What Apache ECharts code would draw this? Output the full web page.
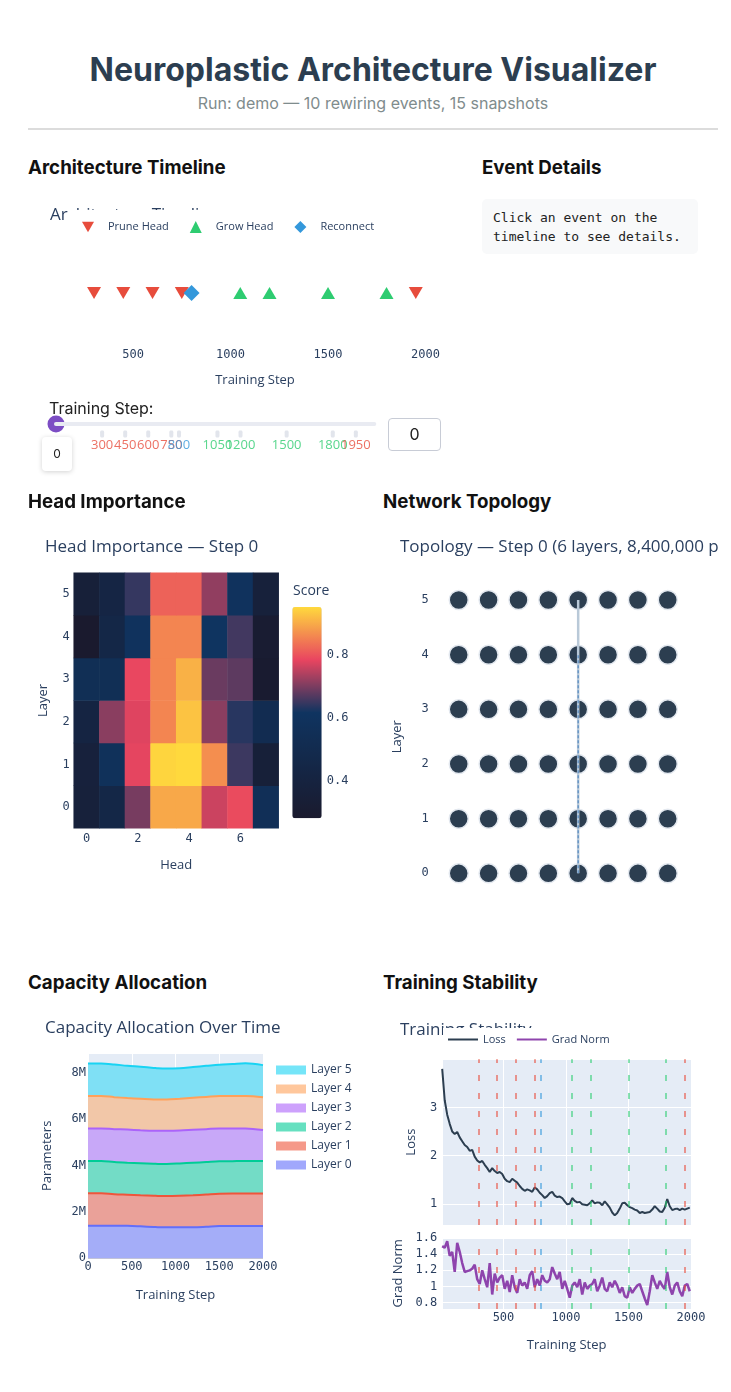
<!DOCTYPE html>
<html>
<head>
<meta charset="utf-8">
<title>Neuroplastic Architecture Visualizer</title>
<script src="https://cdn.jsdelivr.net/npm/echarts@6.0.0/dist/echarts.min.js"></script>
<style>
  body { margin: 0; background: #fff; font-family: Inter, 'Open Sans', sans-serif; }
  #page { position: relative; width: 731px; height: 1392px; overflow: hidden; }
  .abs { position: absolute; }
  .h1 { left: 28px; width: 690px; top: 48px; text-align: center; font-size: 32px; font-weight: 700; color: #2c3e50; line-height: 44px; }
  .sub { left: 28px; width: 690px; top: 93px; text-align: center; font-size: 16px; color: #7f8c8d; line-height: 20px; }
  .rule { left: 28px; width: 690px; top: 128px; height: 2px; background: #dcdcdc; }
  .h3 { font-size: 18.72px; font-weight: 700; color: #111; line-height: 24px; }
  .details { left: 482px; top: 199px; width: 194px; height: 35px; padding: 10px 11px; background: #f8f9fa; border-radius: 5px;
             font-family: 'DejaVu Sans Mono', monospace; font-size: 13px; line-height: 18.5px; color: #222; }
  .sl-label { left: 49px; top: 398px; font-size: 16px; color: #222; line-height: 20px; }
  .sl-tip { left: 42px; top: 437px; width: 30px; height: 34px; background: #fff; border-radius: 4px; box-shadow: 0 1px 5px rgba(0,0,0,0.18);
            font-size: 12px; line-height: 34px; text-align: center; color: #222; }
  .sl-input { left: 388px; top: 418px; width: 51px; height: 31px; border: 1px solid #c8ccd6; border-radius: 4px;
              font-size: 16px; line-height: 31px; text-align: center; color: #222; }
</style>
</head>
<body>
<div id="page">
  <div class="abs h1">Neuroplastic Architecture Visualizer</div>
  <div class="abs sub" id="subtitle"></div>
  <div class="abs rule"></div>

  <div class="abs h3" style="left:28px; top:156px;">Architecture Timeline</div>
  <div class="abs h3" style="left:482px; top:156px;">Event Details</div>
  <div class="abs details">Click an event on the timeline to see details.</div>

  <div class="abs" id="timeline" style="left:28px; top:185px; width:420px; height:215px;"></div>
  <div class="abs" id="slider" style="left:28px; top:395px; width:430px; height:85px;"></div>
  <div class="abs sl-label">Training Step:</div>
  <div class="abs sl-tip" id="slTip"></div>
  <div class="abs sl-input" id="slInput"></div>

  <div class="abs h3" style="left:28px; top:490px;">Head Importance</div>
  <div class="abs h3" style="left:383px; top:490px;">Network Topology</div>
  <div class="abs" id="heatmap" style="left:28px; top:530px; width:330px; height:350px;"></div>
  <div class="abs" id="topology" style="left:380px; top:530px; width:338px; height:385px;"></div>

  <div class="abs h3" style="left:28px; top:971px;">Capacity Allocation</div>
  <div class="abs h3" style="left:383px; top:971px;">Training Stability</div>
  <div class="abs" id="capacity" style="left:28px; top:1010px; width:330px; height:300px;"></div>
  <div class="abs" id="stability" style="left:380px; top:1010px; width:351px; height:370px;"></div>
</div>

<script>
// ---------- data ----------
var runName = 'demo';
var currentStep = 0;

// rewiring events
var eventSteps = [300, 450, 600, 750, 800, 1050, 1200, 1500, 1800, 1950];
var eventTypes = ['prune', 'prune', 'prune', 'prune', 'reconnect', 'grow', 'grow', 'grow', 'grow', 'prune'];
var typeNames = { prune: 'Prune Head', grow: 'Grow Head', reconnect: 'Reconnect' };
var typeColors = { prune: '#e74c3c', grow: '#2ecc71', reconnect: '#3498db' };

// head importance at step 0, one row per layer (0..5), one column per head (0..7)
var heads = ['0', '1', '2', '3', '4', '5', '6', '7'];
var layers = ['0', '1', '2', '3', '4', '5'];
var importance = [
  [0.37, 0.45, 0.70, 0.90, 0.90, 0.765, 0.795, 0.56],
  [0.38, 0.58, 0.785, 0.95, 0.955, 0.87, 0.655, 0.36],
  [0.42, 0.715, 0.78, 0.86, 0.93, 0.715, 0.64, 0.52],
  [0.55, 0.55, 0.79, 0.86, 0.91, 0.69, 0.68, 0.30],
  [0.286, 0.45, 0.60, 0.86, 0.86, 0.62, 0.66, 0.31],
  [0.36, 0.43, 0.65, 0.82, 0.82, 0.72, 0.60, 0.37]
];
var heatColors = ['#1a1a2e', '#142747', '#0f3460', '#e94560', '#ffd93d'];

// topology connections drawn at step 0 (head index, from layer, to layer)
var topoLinks = [
  { head: 4, from: 0, to: 5, dashed: false },
  { head: 4, from: 0, to: 4, dashed: true }
];

// capacity snapshots (parameters per layer)
var snapSteps = [0, 150, 300, 450, 600, 750, 800, 900, 1050, 1200, 1350, 1500, 1650, 1800, 2000];
var layer0 = [1400000, 1400000, 1400000, 1400000, 1380000, 1350000, 1340000, 1340000, 1340000, 1340000, 1360000, 1390000, 1390000, 1390000, 1390000];
var layer1 = [1400000, 1400000, 1360000, 1340000, 1340000, 1350000, 1350000, 1350000, 1360000, 1380000, 1390000, 1390000, 1400000, 1400000, 1400000];
var layer2 = [1400000, 1400000, 1390000, 1380000, 1380000, 1380000, 1380000, 1380000, 1390000, 1400000, 1400000, 1400000, 1400000, 1410000, 1410000];
var layer3 = [1400000, 1400000, 1420000, 1430000, 1420000, 1420000, 1430000, 1430000, 1420000, 1420000, 1420000, 1420000, 1410000, 1400000, 1330000];
var layer4 = [1400000, 1400000, 1380000, 1360000, 1360000, 1350000, 1350000, 1350000, 1370000, 1380000, 1390000, 1400000, 1400000, 1400000, 1410000];
var layer5 = [1400000, 1400000, 1410000, 1390000, 1380000, 1360000, 1340000, 1330000, 1320000, 1330000, 1340000, 1350000, 1380000, 1410000, 1390000];
var layerParams = [layer0, layer1, layer2, layer3, layer4, layer5];
var layerColors = ['#636efa', '#EF553B', '#00cc96', '#ab63fa', '#FFA15A', '#19d3f3'];

// training log
var logSteps = [10, 30, 50, 70, 90, 110, 130, 150, 170, 190,
  210, 230, 250, 270, 290, 310, 330, 350, 370, 390,
  410, 430, 450, 470, 490, 510, 530, 550, 570, 590,
  610, 630, 650, 670, 690, 710, 730, 750, 770, 790,
  810, 830, 850, 870, 890, 910, 930, 950, 970, 990,
  1010, 1030, 1050, 1070, 1090, 1110, 1130, 1150, 1170, 1190,
  1210, 1230, 1250, 1270, 1290, 1310, 1330, 1350, 1370, 1390,
  1410, 1430, 1450, 1470, 1490, 1510, 1530, 1550, 1570, 1590,
  1610, 1630, 1650, 1670, 1690, 1710, 1730, 1750, 1770, 1790,
  1810, 1830, 1850, 1870, 1890, 1910, 1930, 1950, 1970, 1990];
var lossVals = [3.80, 3.15, 2.85, 2.66, 2.50, 2.45, 2.49, 2.38, 2.30, 2.22,
  2.18, 2.10, 2.12, 1.98, 1.90, 1.86, 1.89, 1.81, 1.74, 1.66,
  1.74, 1.68, 1.64, 1.66, 1.62, 1.52, 1.47, 1.45, 1.52, 1.48,
  1.44, 1.37, 1.31, 1.27, 1.30, 1.28, 1.25, 1.34, 1.30, 1.23,
  1.18, 1.12, 1.16, 1.22, 1.25, 1.17, 1.14, 1.15, 1.12, 1.05,
  0.99, 1.00, 1.12, 1.06, 1.03, 1.04, 0.99, 0.98, 0.97, 1.01,
  1.07, 1.01, 1.03, 1.02, 0.97, 1.05, 0.99, 0.92, 0.82, 0.76,
  0.81, 0.90, 1.01, 1.02, 0.97, 0.93, 0.91, 0.88, 0.86, 0.81,
  0.83, 0.81, 0.82, 0.83, 0.88, 0.95, 0.90, 0.84, 0.83, 0.92,
  1.10, 0.95, 0.87, 0.89, 0.90, 0.87, 0.90, 0.88, 0.90, 0.92];
var gradVals = [1.50, 1.48, 1.56, 1.38, 1.43, 1.18, 1.54, 1.43, 1.29, 1.18,
  1.19, 1.20, 1.22, 1.27, 1.09, 1.03, 1.20, 1.09, 0.99, 1.29,
  0.90, 1.16, 1.05, 1.11, 1.14, 0.97, 1.07, 0.93, 1.14, 0.99,
  0.92, 1.09, 1.01, 1.05, 0.97, 1.14, 1.19, 0.99, 1.09, 1.01,
  1.14, 1.07, 1.05, 1.09, 1.24, 1.16, 1.09, 1.18, 0.97, 1.07,
  0.97, 0.86, 1.01, 1.05, 0.99, 1.09, 0.90, 1.05, 0.97, 1.01,
  1.03, 1.09, 0.94, 1.01, 1.11, 0.97, 0.94, 1.05, 0.99, 1.07,
  1.01, 0.92, 0.99, 0.88, 0.86, 0.99, 0.92, 0.97, 1.01, 1.03,
  0.94, 0.85, 0.77, 0.94, 1.14, 1.05, 0.97, 1.07, 1.01, 0.97,
  1.18, 0.99, 0.90, 1.01, 1.05, 0.94, 0.88, 1.01, 1.03, 0.94];

// ---------- shared styles ----------
var FONT = "'Open Sans', 'Noto Sans', sans-serif";
var MONO = "'DejaVu Sans Mono', monospace";
var INK = '#2a3f5f';
var PLOT_BG = '#e5ecf6';
var DOWN_TRI = 'path://M0,0L14,0L7,12Z';
var LINE_ICON = 'path://M0,0L30,0L30,2L0,2Z';
function plain(v) { return String(v); }
function tickLabel(extra) {
  var o = { fontFamily: MONO, fontSize: 12, color: INK, formatter: plain };
  for (var k in extra) o[k] = extra[k];
  return o;
}
function axisName(size) { return { fontSize: size || 13, color: INK, fontFamily: FONT }; }
function zip(xs, ys) { var d = []; for (var i = 0; i < xs.length; i++) d.push([xs[i], ys[i]]); return d; }
// plotly-style half transparent fill, flattened onto the plot background
function halfTone(hex) {
  var a = parseInt(hex.slice(1), 16), b = parseInt(PLOT_BG.slice(1), 16);
  var r = Math.round(((a >> 16) + (b >> 16)) / 2), g = Math.round((((a >> 8) & 255) + ((b >> 8) & 255)) / 2),
      bl = Math.round(((a & 255) + (b & 255)) / 2);
  return 'rgb(' + r + ',' + g + ',' + bl + ')';
}

document.getElementById('subtitle').textContent =
  'Run: ' + runName + ' \u2014 ' + eventSteps.length + ' rewiring events, ' + snapSteps.length + ' snapshots';
document.getElementById('slTip').textContent = currentStep;
document.getElementById('slInput').textContent = currentStep;

// ---------- architecture timeline ----------
function eventsOf(type) {
  var d = [];
  for (var i = 0; i < eventSteps.length; i++) if (eventTypes[i] === type) d.push([eventSteps[i], 0]);
  return d;
}
var timeline = echarts.init(document.getElementById('timeline'));
timeline.setOption({
  animation: false,
  textStyle: { fontFamily: FONT },
  title: { text: 'Architecture Timeline', left: 22, top: 22, padding: 0,
    textStyle: { fontSize: 17, fontWeight: 'normal', color: INK, fontFamily: FONT } },
  legend: { left: 40, top: 25, z: 10, backgroundColor: '#fff', padding: [11, 8, 9, 14],
    itemWidth: 12, itemHeight: 12, itemGap: 21,
    textStyle: { fontSize: 11, color: INK, fontFamily: FONT, padding: [0, 0, 0, 9] },
    data: [{ name: typeNames.prune, icon: DOWN_TRI }, { name: typeNames.grow, icon: 'triangle' }, { name: typeNames.reconnect, icon: 'diamond' }] },
  grid: { left: 52, top: 58, width: 350, height: 100 },
  xAxis: { type: 'value', min: 228, max: 2023, splitNumber: 4,
    axisLine: { show: false }, axisTick: { show: false }, splitLine: { show: false },
    axisLabel: tickLabel({ showMinLabel: false, showMaxLabel: false, margin: 6 }),
    name: 'Training Step', nameLocation: 'middle', nameGap: 31, nameTextStyle: axisName() },
  yAxis: { type: 'value', min: -1, max: 1, show: false },
  series: [
    { name: typeNames.prune, type: 'scatter', data: eventsOf('prune'), symbol: DOWN_TRI, symbolSize: [14, 12], itemStyle: { color: typeColors.prune, opacity: 1 } },
    { name: typeNames.grow, type: 'scatter', data: eventsOf('grow'), symbol: 'triangle', symbolSize: [14, 12], itemStyle: { color: typeColors.grow, opacity: 1 } },
    { name: typeNames.reconnect, type: 'scatter', data: eventsOf('reconnect'), symbol: 'diamond', symbolSize: [16, 16], itemStyle: { color: typeColors.reconnect, opacity: 1 } }
  ]
});

// ---------- step slider ----------
var slider = echarts.init(document.getElementById('slider'));
var markLabels = [];
var markTicks = [];
for (var i = 0; i < eventSteps.length; i++) {
  markTicks.push([eventSteps[i], 0]);
  markLabels.push({ value: [eventSteps[i], 0], label: { color: typeColors[eventTypes[i]] } });
}
slider.setOption({
  animation: false,
  grid: { left: 28, top: 19, width: 322.9, height: 20 },
  xAxis: { type: 'value', min: 0, max: 2100, show: false },
  yAxis: { type: 'value', min: -1, max: 1, show: false },
  series: [
    { type: 'line', data: [[0, 0], [2070, 0]], symbol: 'none', silent: true,
      lineStyle: { color: '#e9ebf2', width: 4, cap: 'round' } },
    { type: 'scatter', data: markTicks, symbol: 'roundRect',
      symbolSize: [4, 7], symbolOffset: [0, 10], itemStyle: { color: '#e2e5ec', opacity: 1 } },
    { type: 'scatter', data: markLabels, symbolSize: 0,
      label: { show: true, position: 'inside', offset: [0, 21], fontSize: 13, fontFamily: FONT,
        formatter: function (p) { return p.value[0]; } } },
    { type: 'scatter', data: [[currentStep, 0]], symbolSize: 17, itemStyle: { color: '#7c4dc4', opacity: 1 } }
  ]
});

// ---------- head importance heatmap ----------
var heatData = [];
var vmin = Infinity, vmax = -Infinity;
for (var l = 0; l < layers.length; l++) {
  for (var h = 0; h < heads.length; h++) {
    var v = importance[l][h];
    heatData.push([h, l, v]);
    vmin = Math.min(vmin, v); vmax = Math.max(vmax, v);
  }
}
var heatmap = echarts.init(document.getElementById('heatmap'));
heatmap.setOption({
  animation: false,
  textStyle: { fontFamily: FONT },
  title: [
    { text: 'Head Importance \u2014 Step ' + currentStep, left: 17, top: 9, padding: 0,
      textStyle: { fontSize: 17, fontWeight: 'normal', color: INK, fontFamily: FONT } },
    { text: 'Score', left: 265, top: 54, padding: 0,
      textStyle: { fontSize: 14, fontWeight: 'normal', color: INK, fontFamily: FONT } }
  ],
  grid: [
    { left: 45.7, top: 42.7, width: 205, height: 255.6 },
    { left: 265.3, top: 76, width: 29.4, height: 211.3 }
  ],
  xAxis: [
    { type: 'category', data: heads, gridIndex: 0, axisLine: { show: false }, axisTick: { show: false },
      axisLabel: tickLabel({ interval: 1, margin: 5 }),
      name: 'Head', nameLocation: 'middle', nameGap: 30, nameTextStyle: axisName() },
    { type: 'value', gridIndex: 1, show: false }
  ],
  yAxis: [
    { type: 'category', data: layers, gridIndex: 0, axisLine: { show: false }, axisTick: { show: false },
      axisLabel: tickLabel({ margin: 4 }),
      name: 'Layer', nameLocation: 'middle', nameGap: 24, nameTextStyle: axisName() },
    { type: 'value', gridIndex: 1, min: vmin, max: vmax, splitNumber: 3, position: 'right',
      axisLine: { show: false }, axisTick: { show: false }, splitLine: { show: false },
      axisLabel: tickLabel({ showMinLabel: false, showMaxLabel: false, margin: 4,
        formatter: function (x) { return x.toFixed(1); } }) }
  ],
  visualMap: { type: 'continuous', min: vmin, max: vmax, seriesIndex: 0, calculable: false,
    left: 249.3, top: 62, itemWidth: 29.4, itemHeight: 211.3, inRange: { color: heatColors } },
  series: [{ type: 'heatmap', data: heatData, xAxisIndex: 0, yAxisIndex: 0 }]
});

// ---------- network topology ----------
var nodes = [];
for (var l2 = 0; l2 < layers.length; l2++) for (var h2 = 0; h2 < heads.length; h2++) nodes.push([h2, l2]);
var totalParams = 0;
for (var k = 0; k < layerParams.length; k++) totalParams += layerParams[k][0];
var linkSeries = topoLinks.map(function (lk) {
  return { type: 'line', data: [[lk.head, lk.from], [lk.head, lk.to]], symbol: 'none', z: 5, silent: true,
    lineStyle: lk.dashed ? { color: '#5b8ec4', width: 1.3, type: [3, 2] } : { color: '#b9c9d8', width: 2.5 } };
});
var topology = echarts.init(document.getElementById('topology'));
topology.setOption({
  animation: false,
  textStyle: { fontFamily: FONT },
  title: { text: 'Topology \u2014 Step ' + currentStep + ' (' + layers.length + ' layers, ' + totalParams.toLocaleString('en-US') + ' params)',
    left: 20, top: 9, padding: 0, textStyle: { fontSize: 17, fontWeight: 'normal', color: INK, fontFamily: FONT } },
  grid: { left: 63.8, top: 42.7, width: 238.9, height: 328 },
  xAxis: { type: 'category', data: heads, show: false },
  yAxis: { type: 'category', data: layers, axisLine: { show: false }, axisTick: { show: false }, splitLine: { show: false },
    axisLabel: tickLabel({ margin: 15 }),
    name: 'Layer', nameLocation: 'middle', nameGap: 40, nameTextStyle: axisName() },
  series: [{ type: 'scatter', data: nodes, symbolSize: 19, z: 2,
    itemStyle: { color: '#2c3e50', opacity: 1, borderColor: '#e3e8ef', borderWidth: 1.5 } }].concat(linkSeries)
});

// ---------- capacity allocation (stacked by hand, drawn top layer first) ----------
var cumulative = [];
var running = snapSteps.map(function () { return 0; });
layerParams.forEach(function (vals) {
  running = running.map(function (r, j) { return r + vals[j]; });
  cumulative.push(running.slice());
});
var capSeries = [];
for (var li = layerParams.length - 1; li >= 0; li--) {
  capSeries.push({ name: 'Layer ' + li, type: 'line', smooth: 0.35, symbol: 'none',
    data: zip(snapSteps, cumulative[li]), itemStyle: { color: layerColors[li] },
    lineStyle: { color: layerColors[li], width: 2 }, areaStyle: { color: halfTone(layerColors[li]), opacity: 1 } });
}
var capacity = echarts.init(document.getElementById('capacity'));
capacity.setOption({
  animation: false,
  textStyle: { fontFamily: FONT },
  title: { text: 'Capacity Allocation Over Time', left: 17, top: 10, padding: 0,
    textStyle: { fontSize: 17, fontWeight: 'normal', color: INK, fontFamily: FONT } },
  legend: { orient: 'vertical', left: 243, top: 49, itemWidth: 30, itemHeight: 9, itemGap: 7, icon: 'rect',
    itemStyle: { opacity: 0.6 }, textStyle: { fontSize: 12, color: INK, fontFamily: FONT },
    data: ['Layer 5', 'Layer 4', 'Layer 3', 'Layer 2', 'Layer 1', 'Layer 0'] },
  grid: { left: 60, top: 43.3, width: 175, height: 205, show: true, backgroundColor: PLOT_BG, borderWidth: 0 },
  xAxis: { type: 'value', min: 0, max: 2000, interval: 500,
    axisLine: { show: false }, axisTick: { show: false }, splitLine: { lineStyle: { color: '#fff', width: 1 } },
    axisLabel: tickLabel({ margin: 3 }),
    name: 'Training Step', nameLocation: 'middle', nameGap: 30, nameTextStyle: axisName() },
  yAxis: { type: 'value', min: 0, max: 8840000, interval: 2000000,
    axisLine: { show: false }, axisTick: { show: false }, splitLine: { lineStyle: { color: '#fff', width: 1 } },
    axisLabel: tickLabel({ margin: 2, showMaxLabel: false,
      formatter: function (x) { return x === 0 ? '0' : (x / 1e6) + 'M'; } }),
    name: 'Parameters', nameLocation: 'middle', nameGap: 34, nameTextStyle: axisName() },
  series: capSeries
});

// ---------- training stability ----------
function eventLines() {
  return { symbol: 'none', silent: true, label: { show: false },
    data: eventSteps.map(function (s, i) {
      return { xAxis: s, lineStyle: { color: typeColors[eventTypes[i]], type: [6, 12], width: 1.5, opacity: 0.75 } };
    }) };
}
var gridBg = { show: true, backgroundColor: PLOT_BG, borderWidth: 0 };
var whiteSplit = { lineStyle: { color: '#fff', width: 1 } };
var stability = echarts.init(document.getElementById('stability'));
stability.setOption({
  animation: false,
  textStyle: { fontFamily: FONT },
  title: { text: 'Training Stability', left: 20, top: 12, padding: 0,
    textStyle: { fontSize: 17, fontWeight: 'normal', color: INK, fontFamily: FONT } },
  legend: { left: 63, top: 18, z: 10, backgroundColor: '#fff', padding: [6, 5, 4, 5],
    itemWidth: 30, itemHeight: 2, itemGap: 11, textStyle: { fontSize: 11, color: INK, fontFamily: FONT },
    data: [{ name: 'Loss', icon: LINE_ICON }, { name: 'Grad Norm', icon: LINE_ICON }] },
  grid: [
    Object.assign({ left: 62.2, top: 49.3, width: 248.8, height: 165.7 }, gridBg),
    Object.assign({ left: 62.2, top: 227.7, width: 248.8, height: 71.3 }, gridBg)
  ],
  xAxis: [
    { gridIndex: 0, type: 'value', min: 10, max: 2000, splitNumber: 4, axisLine: { show: false }, axisTick: { show: false },
      axisLabel: { show: false }, splitLine: whiteSplit },
    { gridIndex: 1, type: 'value', min: 10, max: 2000, splitNumber: 4, axisLine: { show: false }, axisTick: { show: false },
      axisLabel: tickLabel({ showMinLabel: false, margin: 3 }), splitLine: whiteSplit,
      name: 'Training Step', nameLocation: 'middle', nameGap: 30, nameTextStyle: axisName() }
  ],
  yAxis: [
    { gridIndex: 0, type: 'value', min: 0.56, max: 4.0, splitNumber: 3, axisLine: { show: false }, axisTick: { show: false },
      axisLabel: tickLabel({ showMinLabel: false, showMaxLabel: false, margin: 5 }), splitLine: whiteSplit,
      name: 'Loss', nameLocation: 'middle', nameGap: 24, nameTextStyle: axisName() },
    { gridIndex: 1, type: 'value', min: 0.72, max: 1.605, splitNumber: 4, axisLine: { show: false }, axisTick: { show: false },
      axisLabel: tickLabel({ showMinLabel: false, showMaxLabel: false, margin: 5 }), splitLine: whiteSplit,
      name: 'Grad Norm', nameLocation: 'middle', nameGap: 33, nameTextStyle: axisName() }
  ],
  series: [
    { name: 'Loss', type: 'line', xAxisIndex: 0, yAxisIndex: 0, data: zip(logSteps, lossVals), symbol: 'none',
      itemStyle: { color: '#2c3e50' }, lineStyle: { color: '#2c3e50', width: 2 }, markLine: eventLines() },
    { name: 'Grad Norm', type: 'line', xAxisIndex: 1, yAxisIndex: 1, data: zip(logSteps, gradVals), symbol: 'none',
      itemStyle: { color: '#8e44ad' }, lineStyle: { color: '#8e44ad', width: 2.5 }, markLine: eventLines() }
  ]
});
</script>
</body>
</html>
